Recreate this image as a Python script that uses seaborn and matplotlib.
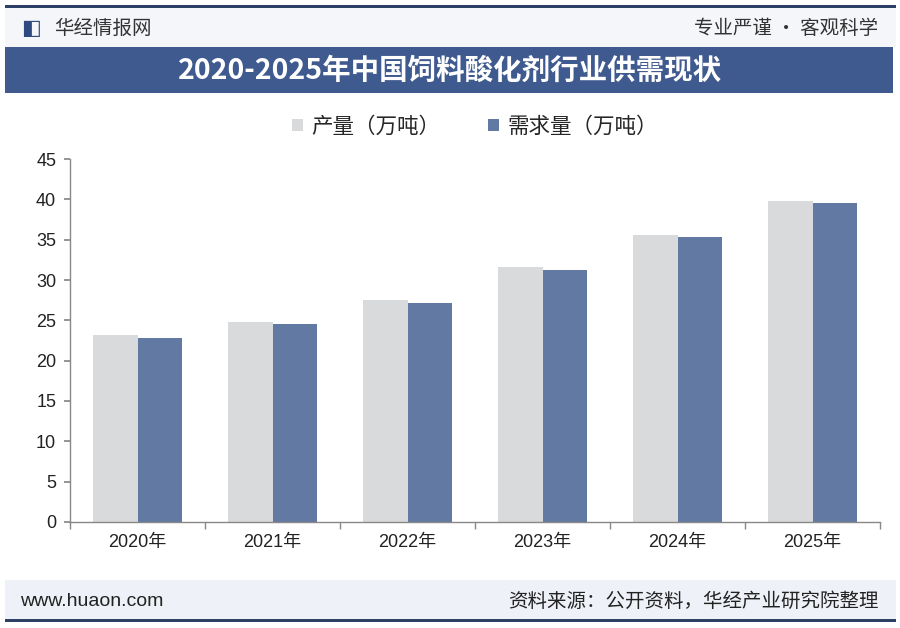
import matplotlib
matplotlib.use("Agg")
import matplotlib.pyplot as plt
import seaborn as sns
import pandas as pd
from matplotlib.patches import Rectangle

years = ["2020年", "2021年", "2022年", "2023年", "2024年", "2025年"]
production = [23.2, 24.8, 27.5, 31.6, 35.6, 39.8]
demand = [22.8, 24.5, 27.2, 31.3, 35.3, 39.5]
series_names = ["产量（万吨）", "需求量（万吨）"]
y_ticks = [0, 5, 10, 15, 20, 25, 30, 35, 40, 45]

sns.set_theme(style="white")
plt.rcParams['font.family'] = ['Liberation Sans', 'Noto Sans CJK SC', 'DejaVu Sans']
cjk = ['Noto Sans CJK SC', 'DejaVu Sans']

df = pd.DataFrame({
    "year": years * 2,
    "value": production + demand,
    "series": [series_names[0]] * len(years) + [series_names[1]] * len(years),
})

fig = plt.figure(figsize=(9, 6.28), dpi=100)
fig.patch.set_facecolor("white")

# header / footer decorations
fig.add_artist(Rectangle((0.005, 0.925), 0.99, 0.066, transform=fig.transFigure,
                         facecolor="#F4F6FA", edgecolor="none", zorder=0))
fig.add_artist(Rectangle((0.005, 0.852), 0.987, 0.073, transform=fig.transFigure,
                         facecolor="#3F5A8E", edgecolor="none", zorder=1))
fig.add_artist(Rectangle((0.005, 0.988), 0.99, 0.004, transform=fig.transFigure,
                         facecolor="#2E3F66", edgecolor="none", zorder=2))
fig.add_artist(Rectangle((0.005, 0.013), 0.99, 0.063, transform=fig.transFigure,
                         facecolor="#EEF1F7", edgecolor="none", zorder=0))
fig.add_artist(Rectangle((0.005, 0.010), 0.99, 0.004, transform=fig.transFigure,
                         facecolor="#2E3F66", edgecolor="none", zorder=2))

fig.text(0.5, 0.888, "2020-2025年中国饲料酸化剂行业供需现状", ha="center", va="center",
         color="white", fontsize=20.5, fontweight="bold", family=cjk)
fig.text(0.034, 0.954, "◧", ha="center", va="center", color="#2E4A80", fontsize=15)
fig.text(0.060, 0.954, "华经情报网", ha="left", va="center", color="#333333",
         fontsize=14, family=cjk)
fig.text(0.976, 0.954, "专业严谨 • 客观科学", ha="right", va="center", color="#333333",
         fontsize=14, family=cjk)
fig.text(0.022, 0.042, "www.huaon.com", ha="left", va="center", color="#222222",
         fontsize=14)
fig.text(0.976, 0.042, "资料来源：公开资料，华经产业研究院整理", ha="right", va="center",
         color="#222222", fontsize=14, family=cjk)

ax = fig.add_axes([0.0778, 0.1688, 0.9, 0.578])
sns.barplot(data=df, x="year", y="value", hue="series",
            palette=["#D9DADC", "#6279A3"], width=0.66, saturation=1,
            edgecolor="none", ax=ax)

ax.set_ylim(0, 45)
ax.set_xlim(-0.5, len(years) - 0.5)
ax.set_yticks(y_ticks)
ax.set_xlabel("")
ax.set_ylabel("")
ax.spines["top"].set_visible(False)
ax.spines["right"].set_visible(False)
for s in ["left", "bottom"]:
    ax.spines[s].set_color("#888888")
    ax.spines[s].set_linewidth(1)
ax.tick_params(axis="y", length=4, color="#888888", labelsize=13, labelcolor="#222222", pad=6, left=True)
ax.tick_params(axis="x", length=0, labelsize=13, labelcolor="#222222", pad=9)
ax.set_xticks([i - 0.5 for i in range(len(years) + 1)], minor=True)
ax.tick_params(axis="x", which="minor", length=5, color="#888888", bottom=True)

ax.legend(loc="upper center", bbox_to_anchor=(0.5, 1.172), ncol=2, frameon=False,
          handlelength=0.5, handleheight=0.5, handletextpad=0.4,
          columnspacing=2.2, prop={"family": cjk, "size": 15.5})

fig.savefig("out.png", dpi=100)
